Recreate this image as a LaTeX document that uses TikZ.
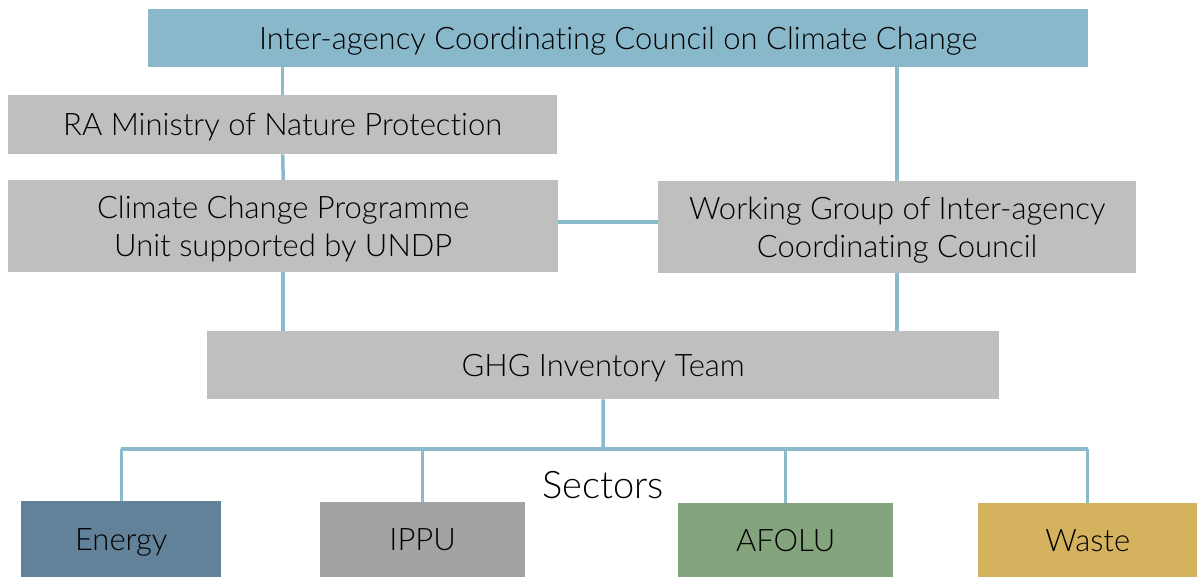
\documentclass[tikz,border=0pt]{standalone}
\usepackage{fontspec}
\setmainfont{Lato}[UprightFont=* Light, Ligatures=NoCommon]
\definecolor{topblue}{HTML}{8AB8CB}
\definecolor{boxgray}{HTML}{BFBFBF}
\definecolor{linkblue}{HTML}{8BBACD}
\definecolor{energyc}{HTML}{62829A}
\definecolor{ippuc}{HTML}{A3A3A3}
\definecolor{afoluc}{HTML}{84A47E}
\definecolor{wastec}{HTML}{D4B25E}
\begin{document}
\begin{tikzpicture}[x=1pt,y=-1pt,
  box/.style={fill=boxgray, inner sep=0pt, align=center, anchor=north west, text=black,
    font=\fontsize{31}{38}\selectfont, text depth=0pt},
  twoline/.style={text depth=-8pt},
  link/.style={draw=linkblue, line width=3.5pt},
  thinlink/.style={draw=linkblue, line width=3pt}]
\useasboundingbox (0,0) rectangle (1203,577);
\node[box, fill=topblue, minimum width=940pt, minimum height=58pt] (council) at (148,9) {Inter-agency Coordinating Council on Climate Change};
\node[box, minimum width=549pt, minimum height=59pt] (ra) at (8,95) {RA Ministry of Nature Protection};
\node[box, twoline, minimum width=550pt, minimum height=92pt] (cc) at (8,180) {Climate Change Programme\\Unit supported by UNDP};
\node[box, twoline, minimum width=478pt, minimum height=92pt] (wg) at (658,181) {Working Group of Inter-agency\\Coordinating Council};
\node[box, minimum width=792pt, minimum height=68pt] (ghg) at (207,331) {GHG Inventory Team};
\node[font=\fontsize{38}{44}\selectfont, inner sep=0pt] (sectors) at (603,485) {Sectors};
\node[box, fill=energyc, minimum width=200pt, minimum height=76pt] (energy) at (21,501) {Energy};
\node[box, fill=ippuc, minimum width=205pt, minimum height=75pt] (ippu) at (320,502) {IPPU};
\node[box, fill=afoluc, minimum width=215pt, minimum height=74pt] (afolu) at (678,503) {AFOLU};
\node[box, fill=wastec, minimum width=219pt, minimum height=74pt] (waste) at (978,503) {Waste};
\coordinate (bus) at (603,449);
\draw[link] (ra.north) -- (ra.north |- council.south);
\draw[link] (ra.south) -- (cc.north);
\draw[link] (cc.south) -- (cc.south |- ghg.north);
\draw[link] (wg.north) -- (wg.north |- council.south);
\draw[link] (wg.south) -- (wg.south |- ghg.north);
\draw[link] ([yshift=4pt]cc.east) -- ([yshift=4pt]cc.east -| wg.west);
\draw[link] (ghg.south) -- (bus);
\draw[link] (energy.north |- bus) -- (waste.north |- bus);
\draw[thinlink] (energy.north) -- (energy.north |- bus);
\draw[thinlink] (ippu.north) -- (ippu.north |- bus);
\draw[thinlink] (afolu.north) -- (afolu.north |- bus);
\draw[thinlink] (waste.north) -- (waste.north |- bus);
\end{tikzpicture}
\end{document}
